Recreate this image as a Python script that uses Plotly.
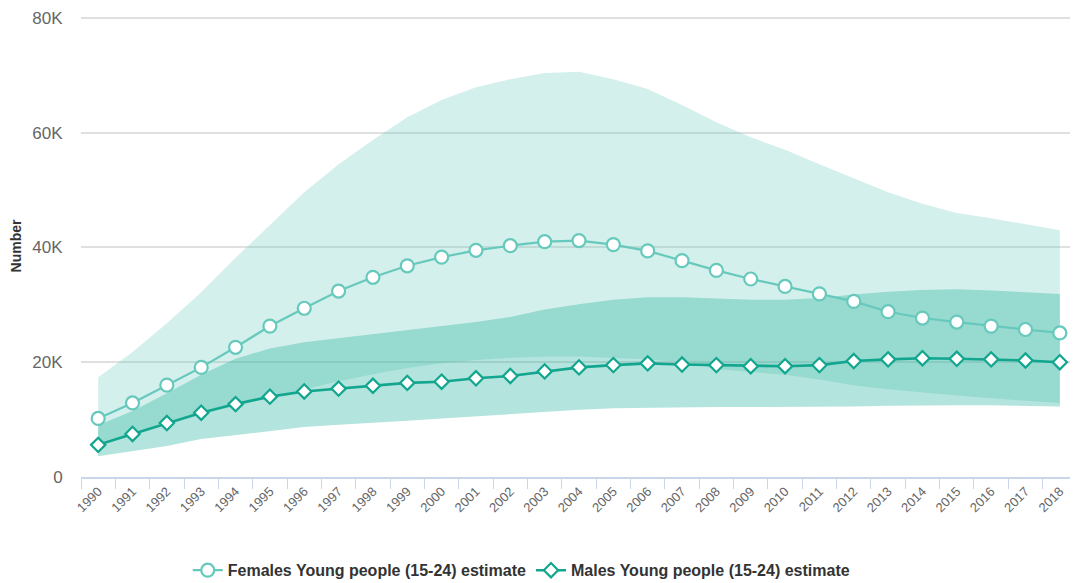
import plotly.graph_objects as go

years = [str(y) for y in range(1990, 2019)]

female_est = [10.2, 12.9, 16.0, 19.1, 22.6, 26.3, 29.4, 32.4, 34.8, 36.8, 38.3, 39.5, 40.3, 41.0, 41.2,
              40.5, 39.4, 37.7, 36.0, 34.5, 33.2, 31.9, 30.6, 28.8, 27.7, 27.0, 26.3, 25.7, 25.1]
female_hi = [17.4, 21.8, 26.8, 32.2, 38.2, 43.9, 49.6, 54.5, 58.7, 62.7, 65.7, 67.9, 69.3, 70.4, 70.6,
             69.3, 67.6, 64.8, 61.8, 59.2, 57.0, 54.5, 52.1, 49.6, 47.6, 46.0, 45.1, 44.1, 43.0]
female_lo = [6.0, 7.5, 9.2, 10.9, 12.4, 13.8, 15.2, 16.7, 17.9, 19.0, 19.8, 20.4, 20.8, 21.0, 21.0,
             20.8, 20.5, 20.0, 18.8, 18.3, 17.8, 17.0, 16.0, 15.3, 14.7, 14.2, 13.7, 13.3, 12.9]

male_est = [5.6, 7.5, 9.4, 11.2, 12.7, 14.0, 14.9, 15.4, 15.9, 16.4, 16.6, 17.2, 17.6, 18.4, 19.1,
            19.5, 19.8, 19.6, 19.5, 19.3, 19.3, 19.5, 20.2, 20.5, 20.7, 20.6, 20.5, 20.3, 20.0]
male_hi = [9.0, 11.5, 14.6, 17.8, 20.6, 22.4, 23.5, 24.2, 24.9, 25.6, 26.3, 27.0, 27.9, 29.2, 30.1,
           30.9, 31.3, 31.3, 31.1, 30.9, 30.9, 31.2, 31.8, 32.3, 32.6, 32.7, 32.5, 32.2, 31.9]
male_lo = [3.6, 4.5, 5.4, 6.6, 7.3, 8.0, 8.7, 9.1, 9.4, 9.8, 10.2, 10.6, 10.9, 11.3, 11.7,
           12.0, 12.1, 12.2, 12.2, 12.2, 12.2, 12.2, 12.3, 12.4, 12.5, 12.5, 12.5, 12.4, 12.3]

y_tickvals = [0, 20000, 40000, 60000, 80000]
y_ticktext = ["0", "20K", "40K", "60K", "80K"]

def k(vals):
    return [v * 1000 for v in vals]

F_COLOR = "#66c9bc"
M_COLOR = "#12a68f"
F_BAND = "rgba(108,203,190,0.29)"
M_BAND = "rgba(20,170,150,0.32)"

fig = go.Figure()

# Female range band
fig.add_trace(go.Scatter(x=years, y=k(female_lo), mode="lines", line=dict(width=0),
                         showlegend=False, hoverinfo="skip"))
fig.add_trace(go.Scatter(x=years, y=k(female_hi), mode="lines", line=dict(width=0),
                         fill="tonexty", fillcolor=F_BAND, showlegend=False, hoverinfo="skip"))
# Male range band
fig.add_trace(go.Scatter(x=years, y=k(male_lo), mode="lines", line=dict(width=0),
                         showlegend=False, hoverinfo="skip"))
fig.add_trace(go.Scatter(x=years, y=k(male_hi), mode="lines", line=dict(width=0),
                         fill="tonexty", fillcolor=M_BAND, showlegend=False, hoverinfo="skip"))

fig.add_trace(go.Scatter(
    x=years, y=k(female_est), mode="lines+markers",
    name="Females Young people (15-24) estimate",
    line=dict(color=F_COLOR, width=2.2),
    marker=dict(symbol="circle", size=13, color="white", line=dict(color=F_COLOR, width=2.2)),
))
fig.add_trace(go.Scatter(
    x=years, y=k(male_est), mode="lines+markers",
    name="Males Young people (15-24) estimate",
    line=dict(color=M_COLOR, width=2.6),
    marker=dict(symbol="diamond", size=11, color="white", line=dict(color=M_COLOR, width=2.2)),
))

fig.update_layout(
    width=1070, height=575,
    margin=dict(l=73, r=1, t=7, b=106, autoexpand=False),
    paper_bgcolor="white", plot_bgcolor="white",
    font=dict(family="Liberation Sans, Arial, sans-serif", color="#666666"),
    showlegend=True,
    legend=dict(orientation="h", traceorder="normal", x=0.442, xanchor="center", y=-0.202, yanchor="middle",
                font=dict(size=16, color="#333333", family="Liberation Sans, Arial", weight="bold"),
                itemwidth=30, tracegroupgap=0),
    hovermode=False,
)

fig.update_xaxes(
    type="category", range=[-0.5, 28.5], automargin=False,
    showgrid=False, showline=True, linecolor="#ccd6eb", linewidth=1.5,
    ticks="outside", tickson="boundaries", ticklen=10, tickcolor="#ccd6eb",
    tickangle=-45, tickfont=dict(size=13, color="#666666"),
    zeroline=False,
)
fig.update_yaxes(
    range=[0, 80500], tickvals=y_tickvals, ticktext=y_ticktext, automargin=False,
    showgrid=True, gridcolor="#e0e0e0", gridwidth=1.5, zeroline=False, showline=False,
    tickfont=dict(size=17, color="#666666"), ticks="outside", ticklen=14, tickcolor="rgba(0,0,0,0)",
    title=dict(text="<b>Number</b>", font=dict(size=14, color="#333333"), standoff=14),
)

fig.write_html("out.html")
